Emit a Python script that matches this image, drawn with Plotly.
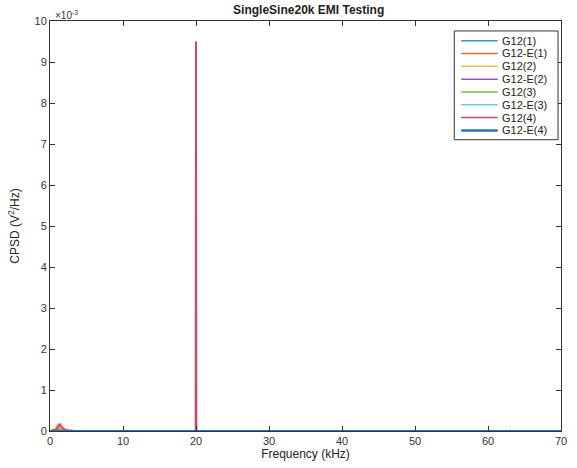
import plotly.graph_objects as go

# Frequency samples (kHz)
freq_khz = [0.0, 0.8, 1.0, 1.2, 1.4, 1.6, 1.8, 2.0, 2.4, 2.8, 3.2, 19.95, 20.0, 20.05, 62.9, 63.0, 63.1, 70.0]

# CPSD values (V^2/Hz)
g12_1  = [0, 0.00002, 0.00005, 0.00004, 0.00003, 0.00002, 0.00001, 0.000005, 0, 0, 0, 0, 0.00001, 0, 0, 0, 0, 0]
g12e_1 = [0, 0.00004, 0.00010, 0.00016, 0.00011, 0.00006, 0.00004, 0.00002, 0.00001, 0.000005, 0, 0, 0.00002, 0, 0, 0, 0, 0]
g12_2  = [0, 0.00007, 0.00018, 0.00012, 0.00008, 0.00005, 0.00003, 0.00002, 0.00001, 0.000005, 0, 0, 0.00001, 0, 0, 0.00003, 0, 0]
g12e_2 = [0, 0.00001, 0.00003, 0.00005, 0.00004, 0.00002, 0.00001, 0.000005, 0, 0, 0, 0, 0.00001, 0, 0, 0, 0, 0]
g12_3  = [0, 0.00001, 0.00003, 0.00004, 0.00003, 0.00001, 0.00001, 0, 0, 0, 0, 0, 0.00001, 0, 0, 0, 0, 0]
g12e_3 = [0, 0.00001, 0.00002, 0.00002, 0.00001, 0.00001, 0, 0, 0, 0, 0, 0, 0.00001, 0, 0, 0, 0, 0]
g12_4  = [0, 0.00003, 0.00008, 0.00013, 0.00016, 0.00010, 0.00006, 0.00004, 0.00002, 0.00001, 0.000005, 0, 0.0095, 0, 0, 0, 0, 0]
g12e_4 = [0, 0, 0, 0, 0, 0, 0, 0, 0, 0, 0, 0, 0, 0, 0, 0, 0, 0]

series_names = ["G12(1)", "G12-E(1)", "G12(2)", "G12-E(2)", "G12(3)", "G12-E(3)", "G12(4)", "G12-E(4)"]
series_vals = [g12_1, g12e_1, g12_2, g12e_2, g12_3, g12e_3, g12_4, g12e_4]
colors = ["#3d93d3", "#e06a3a", "#f0c04a", "#9557a8", "#84b647", "#6cc6ee", "#c0506a", "#1f78c1"]
widths = [1.2, 1.2, 1.2, 1.2, 1.2, 1.2, 2.0, 2.2]

x_ticks = [0, 10, 20, 30, 40, 50, 60, 70]
y_ticks = [i * 1e-3 for i in range(11)]
y_ticktext = [str(i) for i in range(11)]

W, H = 577, 468
ML, MR, MT, MB = 50, 10, 21, 36
PX0, PX1 = ML, W - MR
PY0, PY1 = H - MB, MT


def px2x(px):
    return (px - PX0) / (PX1 - PX0)


def py2y(py):
    return (PY0 - py) / (PY0 - PY1)


fig = go.Figure()
for name, vals, c, w in zip(series_names, series_vals, colors, widths):
    fig.add_trace(go.Scatter(x=freq_khz, y=vals, mode="lines", name=name,
                             line=dict(color=c, width=w), showlegend=False))

axis_common = dict(showgrid=False, zeroline=False, showline=True, linecolor="#333333",
                   linewidth=1, mirror="ticks", ticks="inside", ticklen=5,
                   tickcolor="#333333", tickfont=dict(size=11, color="#333333"))

fig.update_layout(
    width=W, height=H,
    margin=dict(l=ML, r=MR, t=MT, b=MB),
    paper_bgcolor="white", plot_bgcolor="white",
    font=dict(family="Liberation Sans, Arial, sans-serif", color="#222222"),
    title=dict(text="<b>SingleSine20k EMI Testing</b>", x=0.535, xanchor="center",
               y=0.988, yanchor="top", font=dict(size=12, color="#222222")),
    xaxis=dict(range=[0, 70], tickvals=x_ticks,
               title=dict(text="Frequency (kHz)", font=dict(size=12), standoff=2),
               **axis_common),
    yaxis=dict(range=[0, 0.01], tickvals=y_ticks, ticktext=y_ticktext,
               title=dict(text="CPSD (V<sup>2</sup>/Hz)", font=dict(size=12), standoff=12),
               **axis_common),
    showlegend=False,
)

# MATLAB-style legend box
fig.add_shape(type="rect", xref="paper", yref="paper",
              x0=px2x(459), x1=px2x(564), y0=py2y(140), y1=py2y(31),
              line=dict(color="#333333", width=1), fillcolor="white", layer="above")
row0, step = 40.7, 12.86
for i, (name, c, w) in enumerate(zip(series_names, colors, widths)):
    py = row0 + i * step
    fig.add_shape(type="line", xref="paper", yref="paper",
                  x0=px2x(466), x1=px2x(503), y0=py2y(py), y1=py2y(py),
                  line=dict(color=c, width=1.5 if w < 2.1 else 2.4), layer="above")
    fig.add_annotation(text=name, xref="paper", yref="paper",
                       x=px2x(505), y=py2y(py), xanchor="left", yanchor="middle",
                       showarrow=False, font=dict(size=11, color="#222222"))

fig.add_annotation(text="\u00d710<sup>-3</sup>", xref="paper", yref="paper",
                   x=0.0, y=1.0, xanchor="left", yanchor="bottom", showarrow=False,
                   font=dict(size=10, color="#333333"), xshift=3, yshift=-2)

fig.write_html("out.html")
